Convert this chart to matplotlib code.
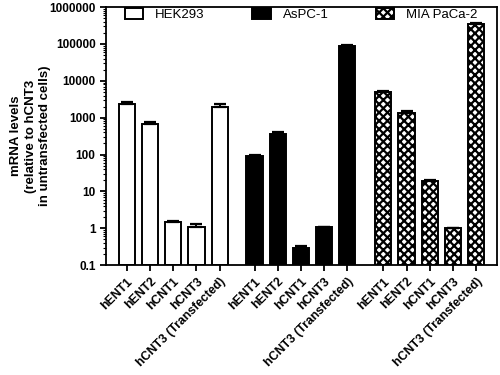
import matplotlib
matplotlib.use('Agg')
import matplotlib.pyplot as plt
import numpy as np

plt.rcParams['font.family'] = ['Liberation Sans', 'DejaVu Sans']
plt.rcParams['hatch.linewidth'] = 1.6

genes = ['hENT1', 'hENT2', 'hCNT1', 'hCNT3', 'hCNT3 (Transfected)']
cells = ['HEK293', 'AsPC-1', 'MIA PaCa-2']

hek_vals = [2400, 690, 1.5, 1.05, 1950]
hek_err = [300, 90, 0.08, 0.25, 400]
aspc_vals = [93, 370, 0.29, 1.05, 90000]
aspc_err = [5, 30, 0.05, 0.05, 5000]
mia_vals = [5000, 1380, 19, 1.0, 340000]
mia_err = [400, 100, 1.5, 0.03, 20000]

base = 0.1

fig = plt.figure(figsize=(5, 3.75), dpi=100)
ax = fig.add_axes([0.212, 0.293, 0.782, 0.688])

offsets = [0, 5.5, 11.05]
styles = [dict(color='white', hatch=None),
          dict(color='black', hatch=None),
          dict(color='white', hatch='xxxx')]
data = [(hek_vals, hek_err), (aspc_vals, aspc_err), (mia_vals, mia_err)]

ticks = []
labels = []
for off, st, (v, e), name in zip(offsets, styles, data, cells):
    x = np.arange(len(genes)) + off
    ax.bar(x, np.array(v) - base, width=0.7, bottom=base, color=st['color'], edgecolor='black',
           hatch=st['hatch'], linewidth=1.4, label=name, zorder=2)
    ax.errorbar(x, v, yerr=[np.zeros(len(v)), e], fmt='none', ecolor='black',
                elinewidth=1.4, capsize=4.5, capthick=1.6, zorder=3)
    ticks += list(x)
    labels += genes

ax.set_yscale('log')
ax.set_ylim(0.1, 1000000)
ax.set_xlim(-0.9, 15.95)
ax.set_yticks([0.1, 1, 10, 100, 1000, 10000, 100000, 1000000])
ax.set_yticklabels(['0.1', '1', '10', '100', '1000', '10000', '100000', '1000000'])
ax.set_xticks(ticks)
ax.set_xticklabels(labels, rotation=45, ha='right', rotation_mode='anchor')
for t in ax.get_yticklabels():
    t.set_fontweight('bold')
    t.set_fontsize(8.5)
for t in ax.get_xticklabels():
    t.set_fontweight('bold')
    t.set_fontsize(8.8)
ax.tick_params(axis='both', which='major', direction='out', length=4, width=1.3)
ax.tick_params(axis='y', which='minor', direction='out', length=2, width=0.8)
for s in ax.spines.values():
    s.set_linewidth(1.3)

ax.set_ylabel('mRNA levels\n(relative to hCNT3\nin untransfected cells)',
              fontsize=9.5, fontweight='bold', linespacing=1.3)
ax.yaxis.set_label_coords(-0.14, 0.5)

ax.legend(loc='upper left', bbox_to_anchor=(0.045, 1.0), ncol=3, frameon=False,
          fontsize=9.5, handlelength=1.4, handleheight=0.9, handletextpad=0.9,
          columnspacing=3.6, borderpad=0.1, borderaxespad=0)

fig.savefig('out.png', dpi=100)
